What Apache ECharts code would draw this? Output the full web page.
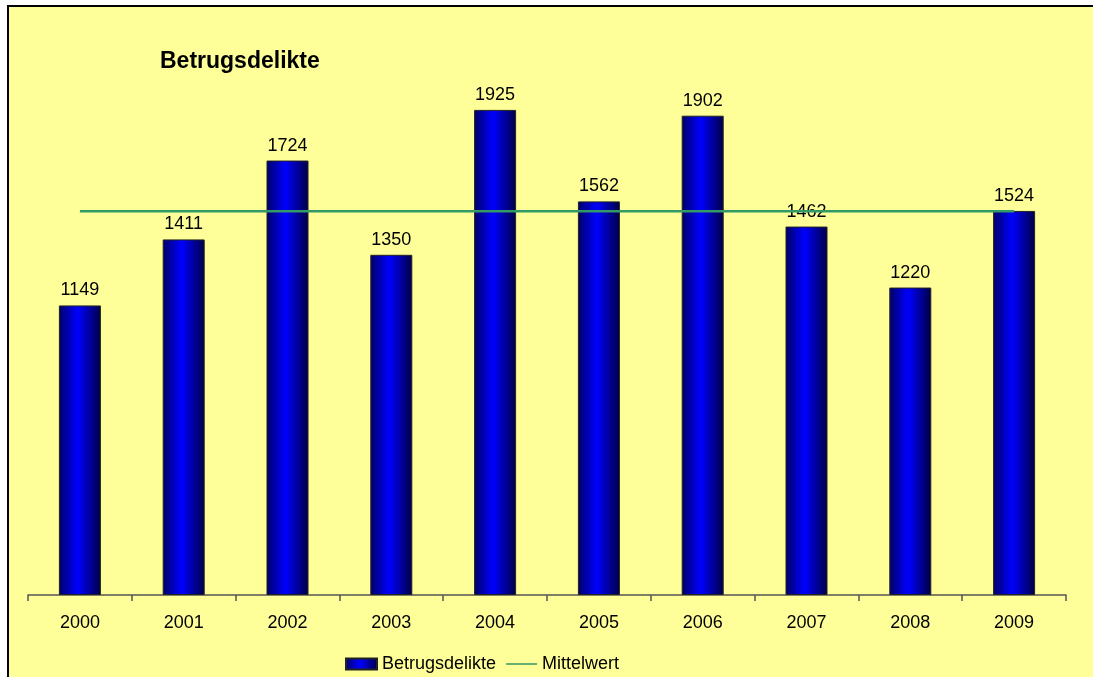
<!DOCTYPE html>
<html>
<head>
<meta charset="utf-8">
<script src="https://cdn.jsdelivr.net/npm/echarts@6/dist/echarts.min.js"></script>
<style>
  html, body { margin: 0; padding: 0; background: #fff; }
  #chart { width: 1093px; height: 677px; }
</style>
</head>
<body>
<div id="chart"></div>
<script>
const years = ['2000', '2001', '2002', '2003', '2004', '2005', '2006', '2007', '2008', '2009'];
const betrugsdelikte = [1149, 1411, 1724, 1350, 1925, 1562, 1902, 1462, 1220, 1524];
const mittelwert = [1523, 1523, 1523, 1523, 1523, 1523, 1523, 1523, 1523, 1523];

const font = 'Arial, "Liberation Sans", sans-serif';
const chart = echarts.init(document.getElementById('chart'));

const barColor = new echarts.graphic.LinearGradient(0, 0, 1, 0, [
    { offset: 0, color: '#000066' },
    { offset: 0.45, color: '#0000ff' },
    { offset: 1, color: '#000044' }
]);

// legend marker for the mean line: a thin bar inside a 31x11 box
const dashIcon = 'path://M0,0 L0.01,0 M31,11 L30.99,11 M0,4.7 L31,4.7 L31,6.3 L0,6.3 Z';

chart.setOption({
    backgroundColor: '#ffffff',
    animation: false,
    graphic: [{
        type: 'rect',
        z: -10,
        shape: { x: 8, y: 6, width: 1100, height: 700 },
        style: { fill: '#ffff99', stroke: '#000', lineWidth: 2 }
    }],
    title: {
        text: 'Betrugsdelikte',
        left: 155,
        top: 45,
        textStyle: { fontFamily: font, fontSize: 23, fontWeight: 'bold', color: '#000' }
    },
    legend: {
        left: 340,
        top: 650,
        itemWidth: 31,
        itemHeight: 11,
        itemGap: 10,
        textStyle: { fontFamily: font, fontSize: 18, color: '#000' },
        data: [
            { name: 'Betrugsdelikte', icon: 'rect' },
            { name: 'Mittelwert', icon: dashIcon }
        ]
    },
    grid: { left: 28, right: 27, top: 91, bottom: 82 },
    xAxis: {
        type: 'category',
        data: years,
        boundaryGap: true,
        axisLine: { lineStyle: { color: '#555', width: 1.5 } },
        axisTick: { show: true, length: 6, lineStyle: { color: '#555', width: 1.5 } },
        axisLabel: { fontFamily: font, fontSize: 18, color: '#000', margin: 19 }
    },
    yAxis: {
        type: 'value',
        min: 0,
        max: 2000,
        show: false,
        splitLine: { show: false }
    },
    series: [{
        name: 'Betrugsdelikte',
        type: 'bar',
        data: betrugsdelikte,
        barWidth: 42,
        itemStyle: { color: barColor, borderColor: '#222', borderWidth: 1 },
        label: {
            show: true,
            position: 'top',
            distance: 6,
            fontFamily: font,
            fontSize: 18,
            color: '#000'
        }
    }, {
        name: 'Mittelwert',
        type: 'line',
        data: mittelwert,
        symbol: 'none',
        z: 5,
        lineStyle: { color: '#339966', width: 2.5 },
        itemStyle: { color: '#339966' }
    }]
});
</script>
</body>
</html>
